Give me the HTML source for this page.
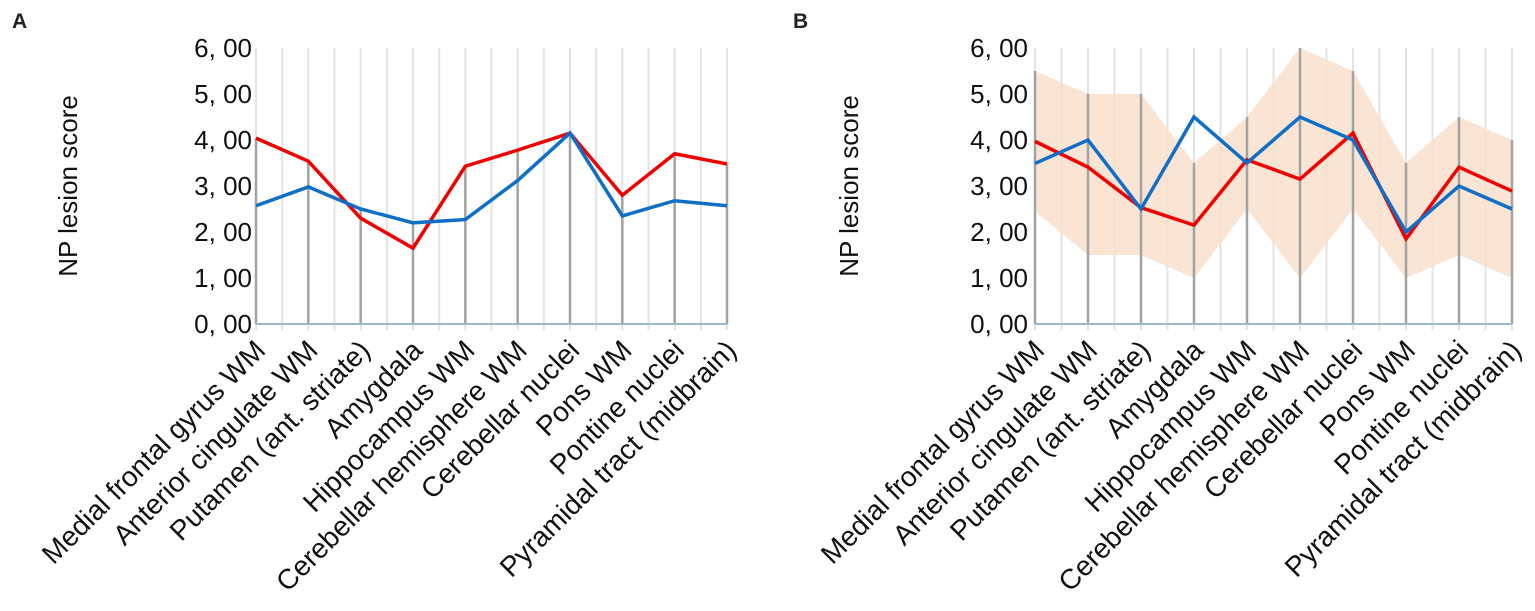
<!DOCTYPE html>
<html><head><meta charset="utf-8"><style>
html,body{margin:0;padding:0;background:#fff;}
svg{display:block;font-family:"Liberation Sans",Arial,sans-serif;}
</style></head><body>
<svg id="c" width="1535" height="611" viewBox="0 0 1535 611"></svg>
<script>
const categories=["Medial frontal gyrus WM","Anterior cingulate WM","Putamen (ant. striate)","Amygdala","Hippocampus WM","Cerebellar hemisphere WM","Cerebellar nuclei","Pons WM","Pontine nuclei","Pyramidal tract (midbrain)"];
const yTicks=["0, 00","1, 00","2, 00","3, 00","4, 00","5, 00","6, 00"];
const aRed=[4.04,3.54,2.30,1.65,3.43,3.78,4.15,2.80,3.70,3.48];
const aBlue=[2.57,2.98,2.50,2.20,2.27,3.12,4.15,2.35,2.68,2.57];
const bRed=[3.97,3.41,2.53,2.15,3.57,3.15,4.15,1.85,3.41,2.89];
const bBlue=[3.49,4.0,2.5,4.5,3.5,4.5,4.0,2.0,3.0,2.5];
const bUpper=[5.5,5.0,5.0,3.5,4.5,6.0,5.5,3.5,4.5,4.0];
const bLower=[2.45,1.5,1.5,1.0,2.5,1.0,2.5,1.0,1.5,1.0];

const NS="http://www.w3.org/2000/svg";
const svg=document.getElementById('c');
function el(tag,attrs,parent){const e=document.createElementNS(NS,tag);for(const k in attrs)e.setAttribute(k,attrs[k]);(parent||svg).appendChild(e);return e;}

function panel(letter,lx,x0,x1,yT,red,blue,upper,lower){
  const y0=324,y6=48;
  const X=i=>x0+(x1-x0)*i/(categories.length-1);
  const Y=v=>y0-(y0-y6)*v/6;
  const g=el('g',{});
  
  
  const t=el('text',{x:lx,y:28,'font-size':21,'font-weight':'bold',fill:'#222'},g);t.textContent=letter;
  
  
  for(let k=0;k<=2*(categories.length-1);k++){
    const x=x0+(x1-x0)*k/(2*(categories.length-1));
    const l=el('line',{x1:x,x2:x,y1:y6,y2:y0+6,stroke:'#e3e3e3','stroke-width':2},g);
    
    
  }
  if(upper){
    let d='';
    upper.forEach((v,i)=>{d+=(i?'L':'M')+X(i)+','+Y(v);});
    for(let i=lower.length-1;i>=0;i--)d+='L'+X(i)+','+Y(lower[i]);
    const p=el('path',{d:d+'Z',fill:'#f9dfcc','fill-opacity':0.85},g);
    
    
  }
  categories.forEach((c,i)=>{
    const top=upper?upper[i]:Math.max(red[i],blue[i]);
    const l=el('line',{x1:X(i),x2:X(i),y1:Y(top),y2:y0,stroke:'#a3a3a3','stroke-width':2.5},g);
    
    
  });
  const ax=el('line',{x1:x0,x2:x1,y1:y0,y2:y0,stroke:'#9db7d3','stroke-width':2},g);
  
  
  yTicks.forEach((s,k)=>{
    const tt=el('text',{x:yT,y:Y(k)+9,'font-size':26,'text-anchor':'end',fill:'#111'},g);tt.textContent=s;
    
    
  });
  const yt=el('text',{transform:`translate(${lx+65},186) rotate(-90)`,'font-size':26,'text-anchor':'middle',fill:'#111'},g);
  yt.textContent='NP lesion score';
  
  
  categories.forEach((c,i)=>{
    const tx=X(i)+11,ty=352;
    const tt=el('text',{transform:`translate(${tx},${ty}) rotate(-45)`,'font-size':28,'text-anchor':'end',fill:'#111'},g);
    tt.textContent=c;
    
    
  });
  [[red,'#f00000','red-line'],[blue,'#0f6fc6','blue-line']].forEach(([arr,col,nm])=>{
    const pts=arr.map((v,i)=>X(i)+','+Y(v)).join(' ');
    const pl=el('polyline',{points:pts,fill:'none',stroke:col,'stroke-width':3.5,'stroke-linejoin':'miter'},g);
    
    
  });
}
panel('A',12,256,727,252,aRed,aBlue,null,null);
panel('B',793,1035,1512,1028,bRed,bBlue,bUpper,bLower);
</script>
</body></html>
